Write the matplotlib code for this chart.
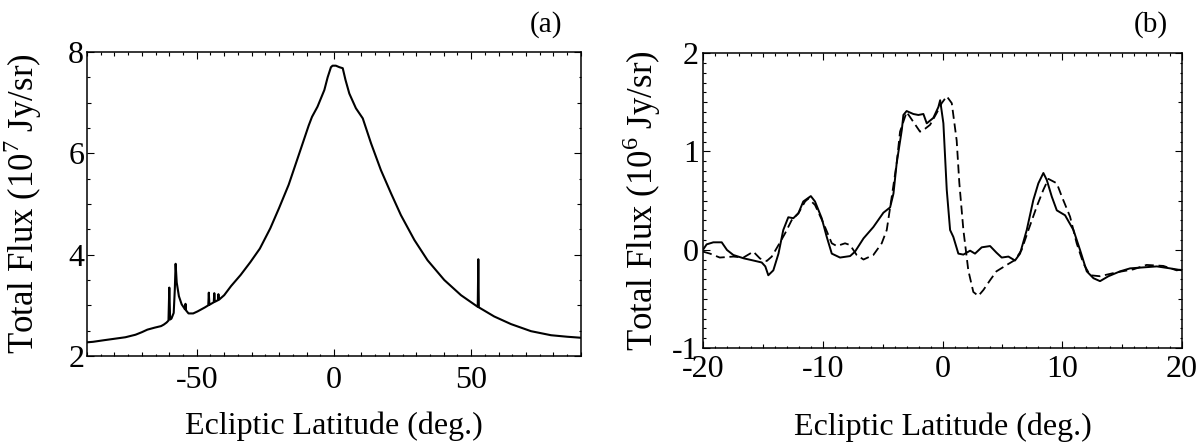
import matplotlib
matplotlib.use("Agg")
import matplotlib.pyplot as plt
from matplotlib.ticker import MultipleLocator, FormatStrFormatter

plt.rcParams['font.family'] = ['Liberation Serif', 'DejaVu Serif']
plt.rcParams['mathtext.fontset'] = 'custom'
plt.rcParams['mathtext.rm'] = 'Liberation Serif'
plt.rcParams['axes.unicode_minus'] = False

# panel (a): total flux profile, 10^7 Jy/sr
lat_a = [-90, -87.8, -84, -80, -76, -72.3, -70, -68, -65.3, -63, -62, -61, -60.3, -60.0, -59.7,
         -59.2, -58.4, -58.0, -57.7, -57.3, -56.5, -55.5, -54.5, -54.3, -54.1, -53.9, -53,
         -51.3, -49.7, -47, -45.8, -45.6, -45.4, -43.8, -43.6, -43.4, -42.3, -42.1, -41.9,
         -40, -37.5, -34, -30.5, -27, -23.2, -20, -16.5, -12, -9.2, -8, -6, -3.5, -2.3, -1.1,
         -0.5, 0.7, 2, 3.2, 4.2, 5.6, 8.0, 10.5, 13.5, 17.1, 20.8, 24.4, 29.3, 34.1, 40.2,
         46.3, 52.4, 52.6, 52.8, 58.4, 64.5, 71.8, 79.1, 85, 90]
flux_a = [2.27, 2.28, 2.31, 2.34, 2.37, 2.42, 2.47, 2.52, 2.56, 2.59, 2.62, 2.66, 2.70, 3.35, 2.72,
          2.74, 2.85, 3.30, 3.82, 3.45, 3.18, 3.02, 2.94, 2.92, 3.03, 2.90, 2.84,
          2.84, 2.88, 2.96, 3.00, 3.25, 3.01, 3.06, 3.24, 3.07, 3.10, 3.22, 3.11,
          3.20, 3.38, 3.60, 3.85, 4.12, 4.52, 4.92, 5.38, 6.10, 6.55, 6.72, 6.92, 7.25, 7.50, 7.70,
          7.73, 7.73, 7.70, 7.68, 7.45, 7.18, 6.89, 6.69, 6.20, 5.67, 5.21, 4.78, 4.29, 3.89, 3.50,
          3.20, 2.97, 3.91, 2.96, 2.78, 2.63, 2.49, 2.41, 2.38, 2.36]

# panel (b): residual flux, 10^6 Jy/sr (solid = data, dashed = model)
lat_b = [-20, -19.7, -19.14, -18.44, -18.0, -17.47, -16.6, -15.8, -15.1, -14.8, -14.55, -14.13,
         -13.7, -13.3, -12.88, -12.46, -12.04, -11.63, -11.0, -10.65, -10.09, -9.67, -9.25,
         -8.56, -7.72, -7.31, -6.6, -5.78, -4.94, -4.38, -4.1, -3.83, -3.4, -3.27, -3.0, -2.44,
         -2.02, -1.6, -1.32, -0.77, -0.35, -0.2, 0.07, 0.35, 0.63, 0.9, 1.32, 1.74, 2.3, 2.71,
         3.27, 3.97, 4.5, 4.94, 5.5, 6.05, 6.47, 7.03, 7.58, 8.0, 8.42, 8.7, 9.12, 9.54, 10.23,
         10.93, 11.48, 12.04, 12.6, 13.15, 13.85, 14.83, 15.66, 16.77, 17.89, 19.0, 20]
flux_b = [0.0, 0.054, 0.075, 0.075, -0.003, -0.054, -0.088, -0.11, -0.13, -0.17, -0.26, -0.21,
          -0.04, 0.2, 0.33, 0.32, 0.37, 0.49, 0.545, 0.49, 0.32, 0.13, -0.04,
          -0.08, -0.065, -0.02, 0.115, 0.23, 0.376, 0.43, 0.57, 0.88, 1.22, 1.37, 1.41, 1.38,
          1.37, 1.38, 1.285, 1.34, 1.45, 1.52, 1.285, 0.61, 0.2, 0.13, -0.04, -0.05, -0.01, -0.04,
          0.024, 0.037, -0.03, -0.08, -0.07, -0.11, -0.04, 0.2, 0.505, 0.675, 0.78, 0.71, 0.54, 0.40,
          0.35, 0.2, -0.003, -0.22, -0.29, -0.32, -0.27, -0.22, -0.19, -0.18, -0.17, -0.19, -0.21]
lat_model = [-20, -19.42, -18.6, -17.47, -16.63, -15.8, -15.24, -14.68, -14.26, -13.7, -13.15,
             -12.6, -12.04, -11.48, -11.2, -10.65, -9.95, -9.25, -8.83, -8.14, -7.72, -7.17,
             -6.6, -5.78, -5.08, -4.66, -4.24, -3.83, -3.55, -3.0, -2.44, -1.88, -1.46, -1.04,
             -0.49, -0.07, 0.35, 0.77, 1.18, 1.4, 1.74, 2.15, 2.57, 2.99, 3.41, 3.97, 4.5, 5.36,
             6.05, 6.6, 7.17, 7.87, 8.42, 8.84, 9.54, 9.96, 10.65, 11.2, 11.76, 12.32, 13.15,
             14.55, 15.93, 17.04, 18.43, 19.55, 20]
flux_model = [-0.02, -0.04, -0.08, -0.07, -0.08, -0.02, -0.09, -0.115, -0.07, 0.047, 0.166,
              0.30, 0.37, 0.49, 0.52, 0.455, 0.27, 0.065, 0.037, 0.065, 0.047, -0.054,
              -0.1, -0.054, 0.065, 0.2, 0.54, 0.88, 1.2, 1.40, 1.30, 1.20, 1.23, 1.27,
              1.39, 1.49, 1.56, 1.49, 1.11, 0.68, 0.2, -0.21, -0.43, -0.47, -0.41, -0.31, -0.22, -0.155,
              -0.105, -0.003, 0.2, 0.44, 0.61, 0.72, 0.675, 0.54, 0.335, 0.065, -0.14, -0.26, -0.27,
              -0.23, -0.2, -0.155, -0.165, -0.21, -0.2]

FS = 23
YFS = 25


def set_ticks(ax, which, major, medium, minor):
    axis = ax.xaxis if which == 'x' else ax.yaxis
    axis.set_major_locator(MultipleLocator(major))
    axis.set_minor_locator(MultipleLocator(minor))
    axis.set_major_formatter(FormatStrFormatter('%d'))
    locs = axis.get_minorticklocs()
    ticks = axis.get_minor_ticks(len(locs))
    for loc, t in zip(locs, ticks):
        r = loc / medium
        if abs(r - round(r)) < 1e-6:
            t.tick1line.set_markersize(3.2)
            t.tick2line.set_markersize(3.2)


def style(ax):
    for s in ax.spines.values():
        s.set_linewidth(1.1)
    ax.tick_params(which='both', direction='in', top=True, right=True, width=0.8)
    ax.tick_params(which='major', length=4.8)
    ax.tick_params(which='minor', length=1.8)
    ax.tick_params(labelsize=FS)


fig = plt.figure(figsize=(12.03, 4.46), dpi=100)
ax1 = fig.add_axes([0.0723, 0.2018, 0.4106, 0.6816])
ax2 = fig.add_axes([0.5844, 0.2197, 0.3982, 0.6614])

ax1.plot(lat_a, flux_a, color='black', lw=1.5)
ax1.set_xlim(-90, 90)
ax1.set_ylim(2, 8)
style(ax1)
ax1.tick_params(axis='x', pad=7)
ax1.tick_params(axis='y', pad=2)
set_ticks(ax1, 'x', 50, 10, 5)
set_ticks(ax1, 'y', 2, 1, 0.5)
ax1.set_xlabel('Ecliptic Latitude (deg.)', fontsize=FS)
ax1.set_ylabel(r'Total Flux (10$^{\mathrm{7}}$ Jy/sr)', fontsize=YFS)
ax1.xaxis.set_label_coords(0.5, -0.184)
ax1.yaxis.set_label_coords(-0.086, 0.5)
ax1.text(0.93, 1.09, '(a)', transform=ax1.transAxes, fontsize=21, ha='center', va='center')

ax2.plot(lat_b, flux_b, color='black', lw=1.4)
ax2.plot(lat_model, flux_model, color='black', lw=1.3, dashes=(5, 2.6))
ax2.set_xlim(-20, 20)
ax2.set_ylim(-1, 2)
style(ax2)
ax2.tick_params(axis='x', pad=5)
ax2.tick_params(axis='y', pad=3)
set_ticks(ax2, 'x', 10, 5, 1)
set_ticks(ax2, 'y', 1, 0.5, 0.1)
ax2.set_xlabel('Ecliptic Latitude (deg.)', fontsize=FS)
ax2.set_ylabel(r'Total Flux (10$^{\mathrm{6}}$ Jy/sr)', fontsize=YFS)
ax2.xaxis.set_label_coords(0.5, -0.217)
ax2.yaxis.set_label_coords(-0.0835, 0.5)
ax2.text(0.935, 1.095, '(b)', transform=ax2.transAxes, fontsize=21, ha='center', va='center')

fig.savefig('out.png', dpi=100)
